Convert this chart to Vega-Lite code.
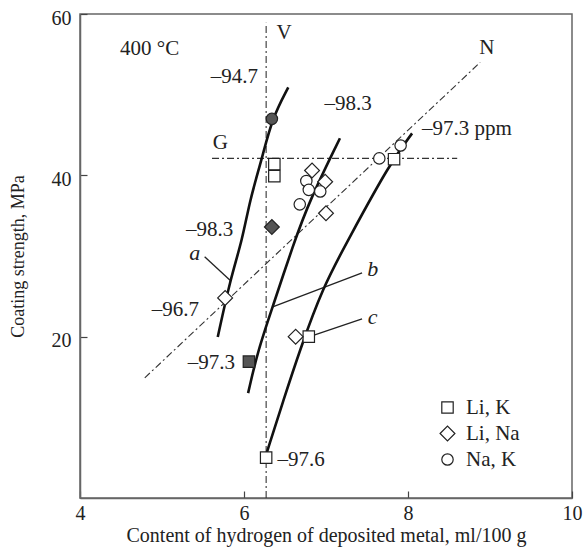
{
  "$schema": "https://vega.github.io/schema/vega-lite/v6.json",
  "width": 492,
  "height": 484,
  "autosize": {"type": "none"},
  "padding": {"left": 80, "top": 14, "right": 13, "bottom": 60},
  "background": "white",
  "config": {
    "font": "Liberation Serif",
    "view": {"stroke": "#666", "strokeWidth": 1.5},
    "axis": {"grid": false, "domainColor": "#666", "domainWidth": 1.5, "tickColor": "#444", "tickWidth": 1.2, "labelFont": "Liberation Serif", "titleFont": "Liberation Serif", "labelFontSize": 20, "titleFontSize": 17, "labelColor": "#222", "titleColor": "#222", "titleFontWeight": "normal"}
  },
  "datasets": {
    "refLines": [
      {"line": "V", "x": 6.27, "y": 0},
      {"line": "V", "x": 6.27, "y": 58.9},
      {"line": "G", "x": 5.61, "y": 42.1},
      {"line": "G", "x": 8.6, "y": 42.1},
      {"line": "N", "x": 4.79, "y": 14.9},
      {"line": "N", "x": 8.88, "y": 54.0}
    ],
    "pointers": [
      {"curve": "a", "x": 5.52, "y": 29.9},
      {"curve": "a", "x": 5.83, "y": 27.0},
      {"curve": "b", "x": 6.35, "y": 23.7},
      {"curve": "b", "x": 7.44, "y": 27.9},
      {"curve": "c", "x": 6.8, "y": 20.0},
      {"curve": "c", "x": 7.44, "y": 22.2}
    ],
    "curves": [
      {"curve": "a", "x": 5.68, "y": 19.95},
      {"curve": "a", "x": 5.83, "y": 27.0},
      {"curve": "a", "x": 5.98, "y": 32.0},
      {"curve": "a", "x": 6.07, "y": 36.9},
      {"curve": "a", "x": 6.22, "y": 42.1},
      {"curve": "a", "x": 6.34, "y": 47.0},
      {"curve": "a", "x": 6.54, "y": 50.9},
      {"curve": "b", "x": 6.05, "y": 13.0},
      {"curve": "b", "x": 6.17, "y": 18.3},
      {"curve": "b", "x": 6.35, "y": 23.7},
      {"curve": "b", "x": 6.6, "y": 31.4},
      {"curve": "b", "x": 6.8, "y": 36.9},
      {"curve": "b", "x": 7.17, "y": 44.6},
      {"curve": "c", "x": 6.28, "y": 5.7},
      {"curve": "c", "x": 6.48, "y": 12.1},
      {"curve": "c", "x": 6.68, "y": 18.3},
      {"curve": "c", "x": 6.96, "y": 26.1},
      {"curve": "c", "x": 7.27, "y": 32.0},
      {"curve": "c", "x": 7.78, "y": 41.5},
      {"curve": "c", "x": 8.05, "y": 45.2}
    ],
    "points": [
      {"series": "Li, K", "state": "open", "x": 6.27, "y": 5.0},
      {"series": "Li, K", "state": "open", "x": 6.37, "y": 41.4},
      {"series": "Li, K", "state": "open", "x": 6.37, "y": 39.9},
      {"series": "Li, K", "state": "open", "x": 6.79, "y": 20.0},
      {"series": "Li, K", "state": "open", "x": 7.83, "y": 42.0},
      {"series": "Li, K", "state": "filled", "x": 6.06, "y": 16.9},
      {"series": "Li, Na", "state": "open", "x": 5.77, "y": 24.8},
      {"series": "Li, Na", "state": "open", "x": 6.83, "y": 40.6},
      {"series": "Li, Na", "state": "open", "x": 6.99, "y": 39.2},
      {"series": "Li, Na", "state": "open", "x": 7.0, "y": 35.3},
      {"series": "Li, Na", "state": "open", "x": 6.63, "y": 20.0},
      {"series": "Li, Na", "state": "filled", "x": 6.34, "y": 33.6},
      {"series": "Na, K", "state": "open", "x": 6.76, "y": 39.3},
      {"series": "Na, K", "state": "open", "x": 6.79, "y": 38.2},
      {"series": "Na, K", "state": "open", "x": 6.93, "y": 38.0},
      {"series": "Na, K", "state": "open", "x": 6.68, "y": 36.4},
      {"series": "Na, K", "state": "open", "x": 7.65, "y": 42.1},
      {"series": "Na, K", "state": "open", "x": 7.91, "y": 43.7},
      {"series": "Na, K", "state": "filled", "x": 6.34, "y": 47.0}
    ],
    "labelsCenter": [
      {"text": "400 °C", "x": 4.85, "y": 55.6},
      {"text": "V", "x": 6.49, "y": 57.7},
      {"text": "N", "x": 8.96, "y": 55.8},
      {"text": "G", "x": 5.71, "y": 44.0},
      {"text": "–98.3", "x": 7.27, "y": 48.9}
    ],
    "labelsRight": [
      {"text": "–94.7", "x": 6.17, "y": 52.2},
      {"text": "–98.3", "x": 5.87, "y": 33.2},
      {"text": "–96.7", "x": 5.45, "y": 23.3},
      {"text": "–97.3", "x": 5.89, "y": 16.7}
    ],
    "labelsLeft": [
      {"text": "–97.3 ppm", "x": 8.17, "y": 45.7},
      {"text": "–97.6", "x": 6.41, "y": 4.7}
    ],
    "letters": [
      {"text": "a", "x": 5.4, "y": 30.4},
      {"text": "b", "x": 7.57, "y": 28.4},
      {"text": "c", "x": 7.57, "y": 22.4}
    ]
  },
  "encoding": {
    "x": {"field": "x", "type": "quantitative", "scale": {"domain": [4, 10], "nice": false, "zero": false},
      "axis": {"title": "Content of hydrogen of deposited metal, ml/100 g", "titleFontSize": 20, "values": [4, 6, 8, 10], "tickSize": -7, "labelPadding": 12, "titlePadding": 2, "labelFlush": false}},
    "y": {"field": "y", "type": "quantitative", "scale": {"domain": [0, 60], "nice": false, "zero": false},
      "axis": {"title": "Coating strength, MPa", "titleFontSize": 18, "values": [20, 40, 60], "tickSize": -7, "labelPadding": 16, "labelOffset": 4, "titlePadding": 24}}
  },
  "layer": [
    {
      "data": {"name": "refLines"},
      "mark": {"type": "line", "color": "#333", "strokeWidth": 1.1, "strokeDash": [7, 3, 2, 3]},
      "encoding": {"detail": {"field": "line"}}
    },
    {
      "data": {"name": "pointers"},
      "mark": {"type": "line", "color": "#222", "strokeWidth": 1.3},
      "encoding": {"detail": {"field": "curve"}}
    },
    {
      "data": {"name": "curves"},
      "mark": {"type": "line", "color": "#111", "strokeWidth": 2.6, "interpolate": "basis"},
      "encoding": {"detail": {"field": "curve"}}
    },
    {
      "data": {"name": "points"},
      "mark": {"type": "point", "filled": false, "stroke": "#222", "strokeWidth": 1.2, "size": 130, "opacity": 1},
      "encoding": {
        "shape": {"field": "series", "type": "nominal", "scale": {"domain": ["Li, K", "Li, Na", "Na, K"], "range": ["square", "M-1.3,0L0,-1.3L1.3,0L0,1.3Z", "circle"]},
          "legend": {"title": null, "orient": "none", "legendX": 357, "legendY": 383, "labelFontSize": 21, "labelColor": "#222", "labelFont": "Liberation Serif", "symbolFillColor": "white", "symbolStrokeColor": "#222", "symbolStrokeWidth": 1.2, "symbolSize": 130, "rowPadding": 4, "labelOffset": 8}},
        "fill": {"field": "state", "type": "nominal", "scale": {"domain": ["open", "filled"], "range": ["white", "#555"]}, "legend": null}
      }
    },
    {
      "data": {"name": "labelsCenter"},
      "mark": {"type": "text", "align": "center", "baseline": "middle", "fontSize": 21, "color": "#222"},
      "encoding": {"text": {"field": "text"}}
    },
    {
      "data": {"name": "labelsRight"},
      "mark": {"type": "text", "align": "right", "baseline": "middle", "fontSize": 21, "color": "#222"},
      "encoding": {"text": {"field": "text"}}
    },
    {
      "data": {"name": "labelsLeft"},
      "mark": {"type": "text", "align": "left", "baseline": "middle", "fontSize": 21, "color": "#222"},
      "encoding": {"text": {"field": "text"}}
    },
    {
      "data": {"name": "letters"},
      "mark": {"type": "text", "align": "center", "baseline": "middle", "fontSize": 22, "fontStyle": "italic", "color": "#222"},
      "encoding": {"text": {"field": "text"}}
    }
  ]
}
